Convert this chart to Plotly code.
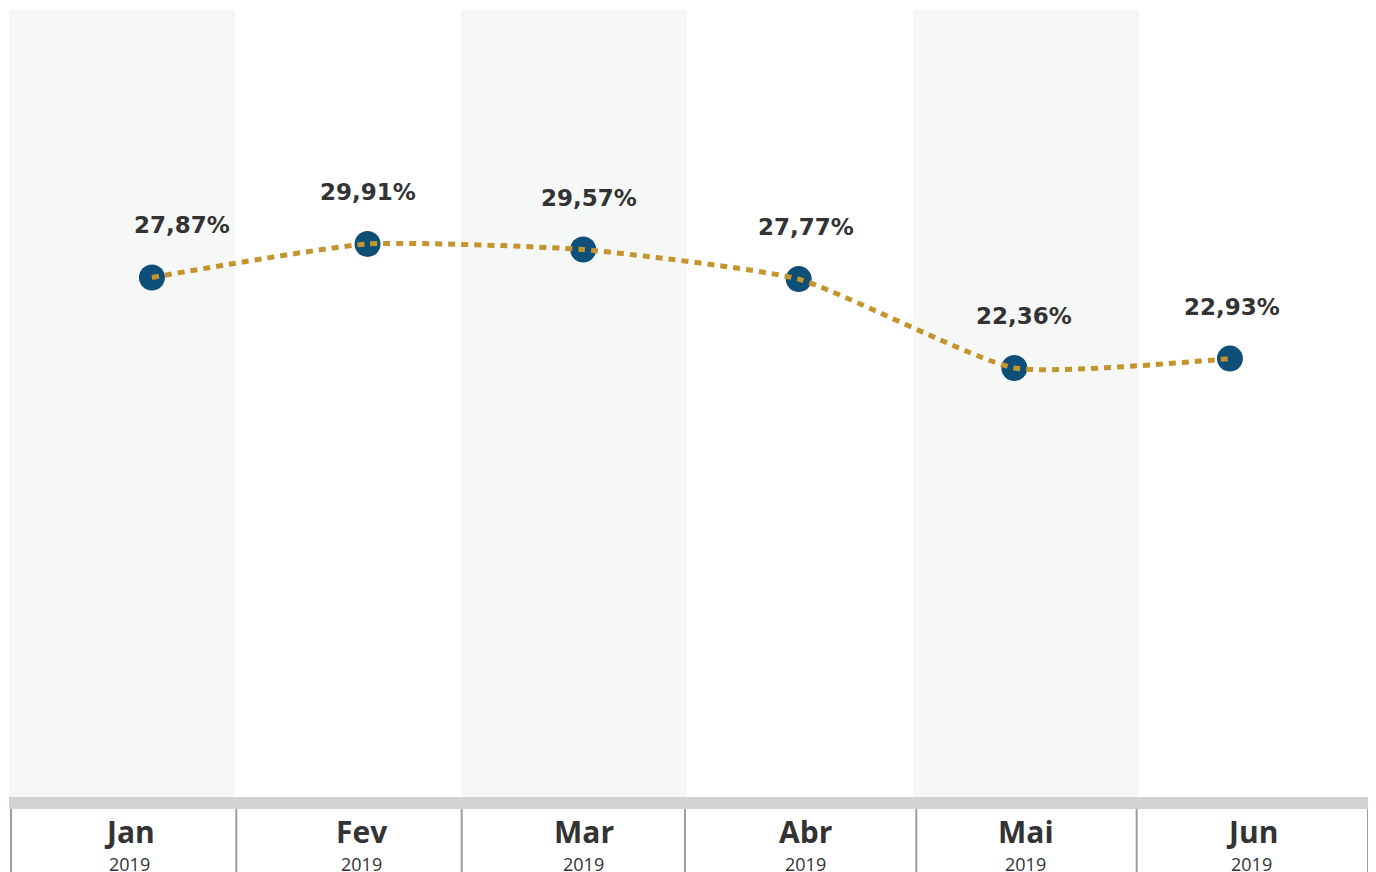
import plotly.graph_objects as go

months = ["Jan", "Fev", "Mar", "Abr", "Mai", "Jun"]
years = ["2019", "2019", "2019", "2019", "2019", "2019"]
values = [27.87, 29.91, 29.57, 27.77, 22.36, 22.93]
value_labels = ["27,87%", "29,91%", "29,57%", "27,77%", "22,36%", "22,93%"]
band_on = [1, 0, 1, 0, 1, 0]

# styling offsets (pixels)
label_xshift = [30, 0, 6, 7, 10, 2]
tick_xshift = [8, 14, 10, 6, 0, 0]
sep_xshift = [0, -1, -2, -5, 0, -6, -1]

idx = list(range(len(months)))

fig = go.Figure()

# alternating background bands (main subplot x / y)
fig.add_trace(go.Bar(
    x=idx, y=band_on, width=1.0, marker=dict(color="#f6f8f7", line=dict(width=0)),
    xaxis="x", yaxis="y", hoverinfo="skip", showlegend=False))

# markers (overlay subplot x2 / y2)
fig.add_trace(go.Scatter(
    x=idx, y=values, mode="markers",
    marker=dict(size=26, color="#0e4f78"),
    xaxis="x2", yaxis="y2", hoverinfo="skip", showlegend=False))

# dotted spline line on top
fig.add_trace(go.Scatter(
    x=idx, y=values, mode="lines",
    line=dict(shape="spline", smoothing=0.5, color="#c4952e", width=5, dash="7px,6px"),
    xaxis="x2", yaxis="y2", hoverinfo="skip", showlegend=False))

annotations = []
for i, (lab, v) in enumerate(zip(value_labels, values)):
    annotations.append(dict(
        x=i, y=v, xref="x2", yref="y2", text="<b>%s</b>" % lab, showarrow=False,
        yshift=52, xshift=label_xshift[i], yanchor="middle",
        font=dict(family="DejaVu Sans", size=23, color="#333333")))

plot_h = 872 - 2 - 83
for i, (m, yr) in enumerate(zip(months, years)):
    annotations.append(dict(
        x=i, y=-(831 - 797) / plot_h, xref="x", yref="paper", text="<b>%s</b>" % m,
        showarrow=False, xshift=tick_xshift[i], yanchor="middle",
        font=dict(family="Open Sans", size=30, color="#333333")))
    annotations.append(dict(
        x=i, y=-(864 - 797) / plot_h, xref="x", yref="paper", text=yr,
        showarrow=False, xshift=tick_xshift[i], yanchor="middle",
        font=dict(family="Open Sans", size=18, color="#333333")))

shapes = [dict(type="rect", xref="paper", yref="paper", x0=0, x1=1.001,
               y0=-(809 - 797) / plot_h, y1=0, fillcolor="#d4d1d2", line=dict(width=0), layer="above")]
for k in range(len(months) + 1):
    shapes.append(dict(type="line", xref="x3", yref="paper", xsizemode="pixel",
                       xanchor=k - 0.5, x0=sep_xshift[k], x1=sep_xshift[k],
                       y0=-(809 - 797) / plot_h, y1=-90 / plot_h,
                       line=dict(color="#9c9c9c", width=2)))

fig.update_layout(
    width=1376, height=872,
    margin=dict(l=1, r=15, t=2, b=83),
    paper_bgcolor="white", plot_bgcolor="white",
    xaxis=dict(type="linear", range=[-0.5, 5.518], visible=False, fixedrange=True),
    yaxis=dict(range=[0, 1], visible=False, fixedrange=True),
    xaxis2=dict(type="linear", range=[-0.663, 5.645], overlaying="x", visible=False),
    yaxis2=dict(range=[-3.77, 44.16], overlaying="y", visible=False),
    xaxis3=dict(type="linear", range=[-0.5088, 5.5], overlaying="x", visible=False),
    annotations=annotations, shapes=shapes,
    bargap=0, showlegend=False,
)

fig.write_html("out.html")
